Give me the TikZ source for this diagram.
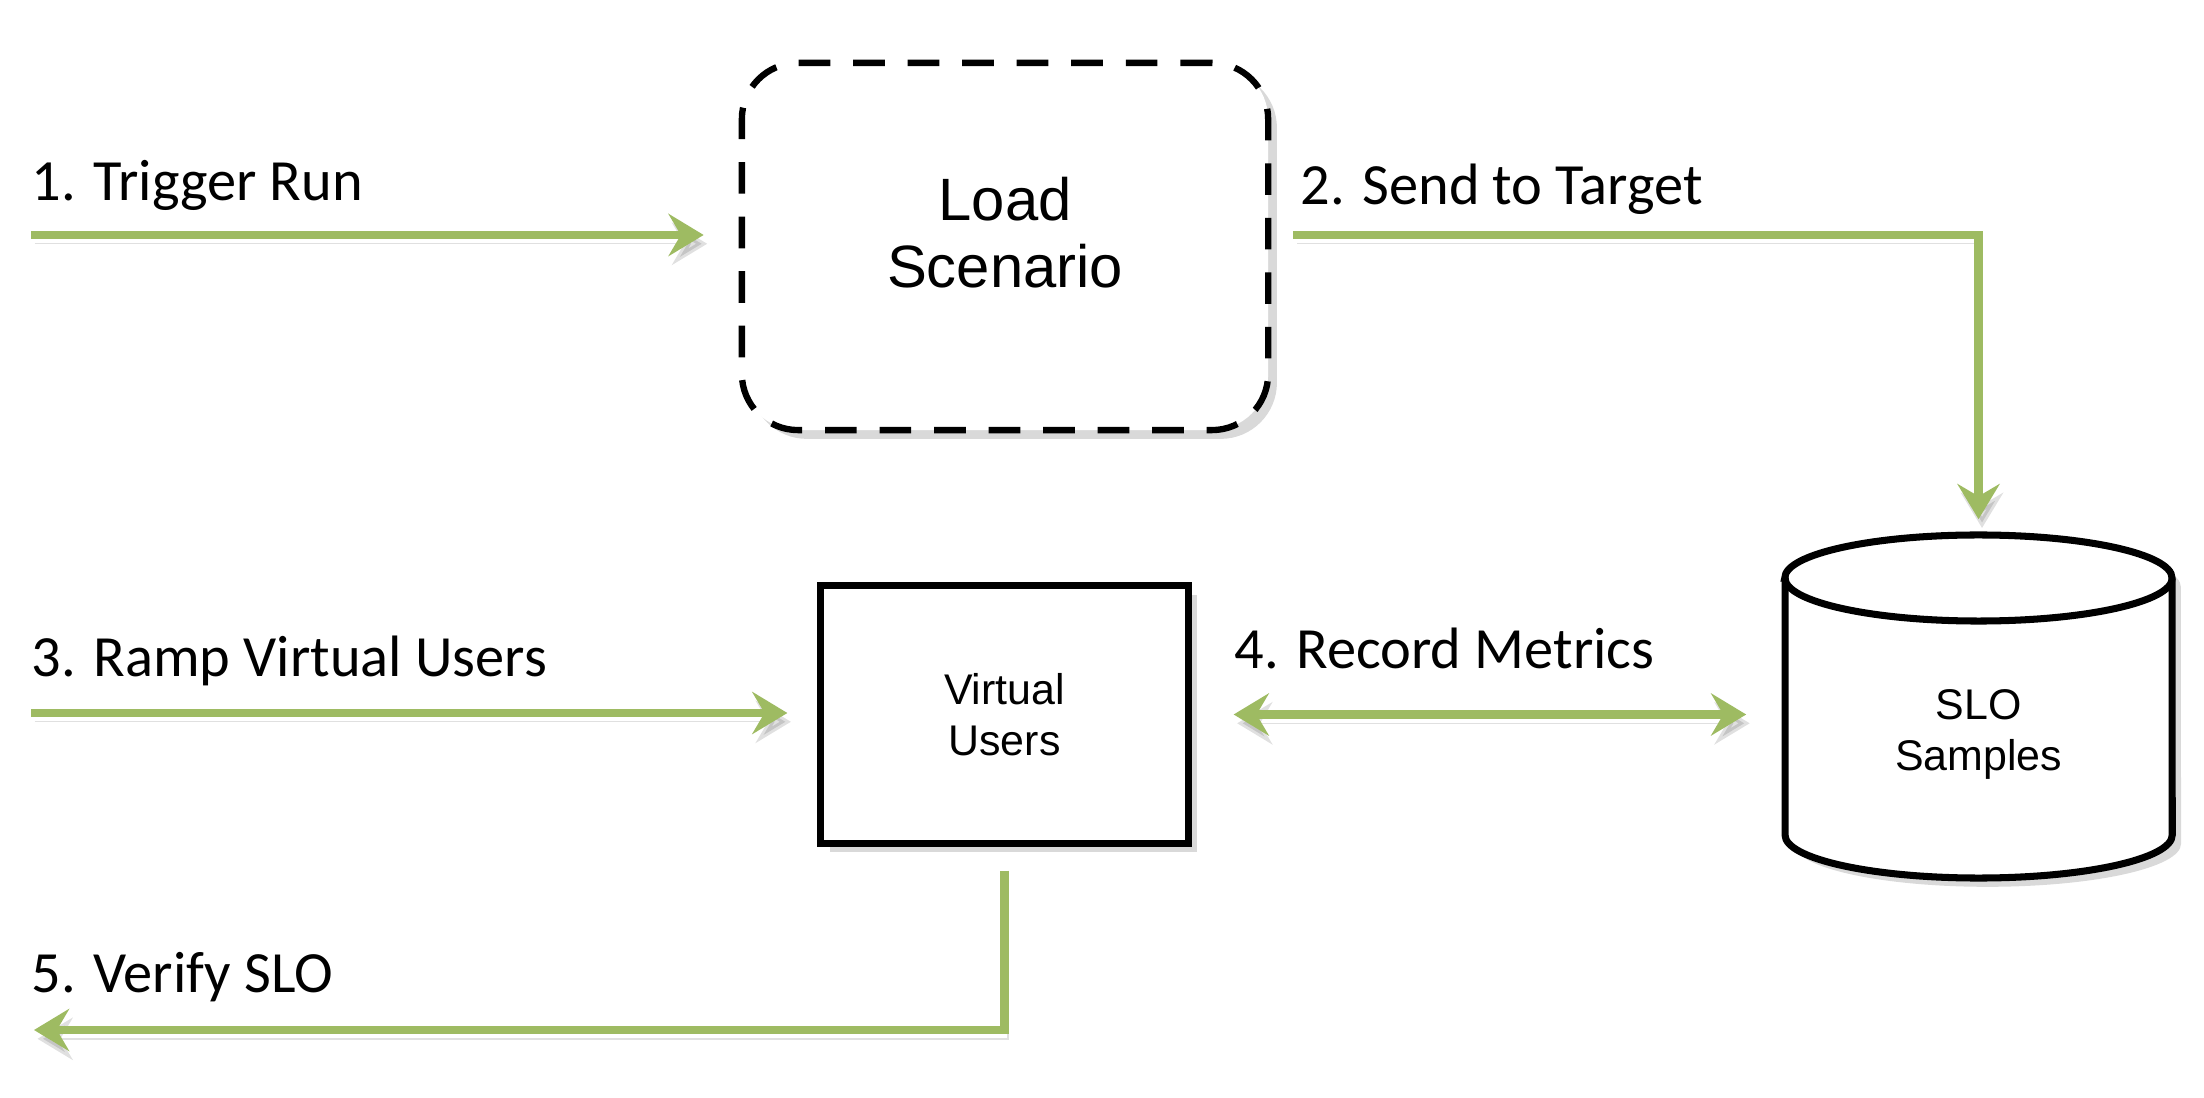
\documentclass[tikz,border=0pt]{standalone}
\usepackage{fontspec}
\setmainfont{Carlito}
\newfontfamily\helv{Liberation Sans}
\usetikzlibrary{arrows.meta,positioning,shadows}

\definecolor{flowgreen}{RGB}{158,187,98}

\begin{document}
\begin{tikzpicture}[
  x=0.01cm, y=-0.01cm,
  tip/.tip={Stealth[length=10pt,width=12pt,inset=3.5pt]},
  flow/.style={draw=flowgreen,line width=2.5pt,-tip,
    preaction={draw=black,opacity=0.12,transform canvas={xshift=1pt,yshift=-2.5pt}}},
  flowboth/.style={flow,tip-tip},
  steptext/.style={anchor=base west,inner sep=0pt,font=\fontsize{16.6}{20}\selectfont},
  boxshadow/.style={drop shadow={shadow xshift=2.5pt,shadow yshift=-2.5pt,opacity=0.3}},
  scenario/.style={draw,line width=1.8pt,dash pattern=on 9pt off 6.5pt,rounded corners=16pt,
    fill=white,boxshadow,minimum width=5.26cm,minimum height=3.67cm},
  usersbox/.style={draw,line width=2pt,fill=white,boxshadow,minimum width=3.67cm,
    minimum height=2.57cm,align=center,font=\helv\fontsize{12.2}{14.5}\selectfont},
  store/.style={inner sep=0pt,minimum width=3.87cm,minimum height=3cm,align=center,
    font=\helv\fontsize{12.2}{14.5}\selectfont}
]
  \useasboundingbox (0,0) rectangle (2204,1098);

  % boxes
  \node[scenario,label={[align=center,yshift=4pt,font=\helv\fontsize{17}{19.2}\selectfont]center:Load\\Scenario}]
    (load) at (1005,246.5) {};
  \node[usersbox] (vu) at (1004.5,714.5) {Virtual\\Users};

  % SLO store: body node, cylinder drawn around it
  \draw[line width=2pt,fill=white,boxshadow]
    (1785,578) -- (1785,835) arc[start angle=180,end angle=360,x radius=1.935cm,y radius=0.43cm]
    -- (2172,578) arc[start angle=0,end angle=180,x radius=1.935cm,y radius=0.43cm] -- cycle;
  \draw[line width=2pt] (1785,578) arc[start angle=180,end angle=360,x radius=1.935cm,y radius=0.43cm];
  \node[store] (slo) at (1978.5,734) {SLO\\Samples};

  % free ends
  \coordinate (t1) at (31,235);
  \coordinate (t3) at (31,713);
  \coordinate (t5) at (34,1030);

  % connectors
  \draw[flow,shorten >=0.35cm] (t1) -- (t1 -| load.west);
  \draw[flow,shorten <=0.22cm,shorten >=0.64cm] (load.east |- t1) -| (slo.north);
  \draw[flow,shorten >=0.30cm] (t3) -- (t3 -| vu.west);
  \draw[flowboth,shorten <=0.42cm,shorten >=0.38cm] (vu.east) -- (vu.east -| slo.west);
  \draw[flow,shorten <=0.24cm] (vu.south) |- (t5);

  % step labels
  \node[steptext] (l1) at (31,201) {1. Trigger Run};
  \node[steptext] (l2) at (1300,205) {2. Send to Target};
  \node[steptext] (l3) at (31,676) {3. Ramp Virtual Users};
  \node[steptext] (l4) at (1234,669) {4. Record Metrics};
  \node[steptext] (l5) at (31,992) {5. Verify SLO};
\end{tikzpicture}
\end{document}
